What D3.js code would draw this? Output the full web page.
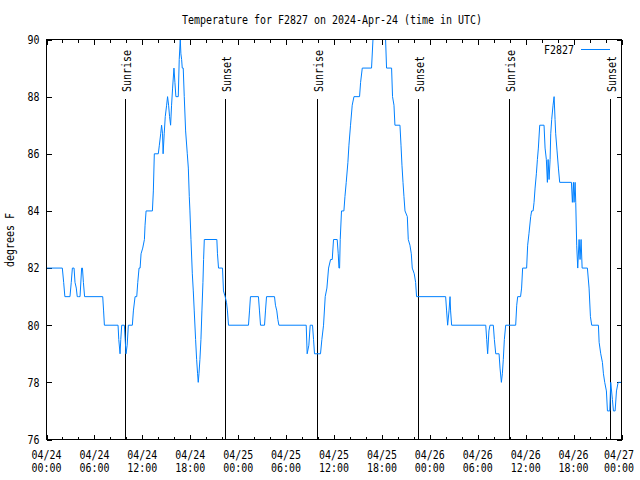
<!DOCTYPE html>
<html><head><meta charset="utf-8">
<script src="https://cdn.jsdelivr.net/npm/d3@7"></script>
<style>body{margin:0;background:#fff}svg text{font-family:"DejaVu Sans Mono",monospace;font-size:12px;fill:#000}</style>
</head><body><svg id="c" width="640" height="480"></svg>
<script>
// hours after 2024-04-24 00:00 UTC
const hours = [0,1.98,2.15,2.3,2.94,3.1,3.24,3.45,3.57,3.73,3.85,4.0,4.2,4.4,4.5,4.62,4.77,7.04,7.15,7.25,8.96,9.05,9.21,9.3,9.42,9.75,9.85,9.96,10.1,10.25,10.75,10.88,11.09,11.3,11.43,11.59,11.72,11.84,12.05,12.26,12.34,12.47,13.26,13.38,13.5,14.0,14.13,14.3,14.41,14.53,14.6,14.74,14.87,15.04,15.16,15.29,15.41,15.54,15.66,15.79,15.96,16.08,16.2,16.5,16.62,16.75,16.83,16.92,17.0,17.12,17.25,17.42,17.63,17.76,17.88,17.96,18.09,18.26,18.38,18.5,18.67,18.8,18.92,19.0,19.09,19.21,19.34,19.46,19.59,19.67,19.76,21.33,21.41,21.54,22.04,22.16,22.37,22.54,22.66,22.79,
25.29,25.42,25.54,26.54,26.67,26.8,27.3,27.42,27.55,28.55,28.67,28.84,28.97,29.1,32.52,32.64,32.85,33.02,33.31,33.44,33.56,34.31,34.48,34.69,34.9,35.11,35.32,35.57,35.78,35.94,36.4,36.53,36.62,36.7,36.78,36.94,37.24,37.37,37.53,37.74,37.87,38.07,38.28,38.5,39.2,39.33,39.54,40.7,40.88,40.95,42.38,42.46,42.58,43.21,43.33,43.51,43.63,44.26,44.39,44.51,44.64,44.76,44.89,45.18,45.3,45.51,45.68,45.8,46.05,46.22,46.34,
49.98,50.1,50.23,50.4,50.53,50.6,50.73,55.0,55.12,55.24,55.4,55.53,55.95,56.08,56.25,56.67,56.79,56.96,57.08,57.2,57.33,57.5,58.75,58.88,59.0,59.36,59.49,59.62,60.12,60.25,60.41,60.63,60.75,60.93,61.05,61.18,61.34,61.47,61.59,61.76,62.3,62.43,62.59,62.72,62.81,62.93,63.06,63.14,63.26,63.43,63.56,63.68,63.76,63.93,64.1,64.26,65.73,65.85,65.98,66.06,66.19,66.27,66.39,66.52,66.69,66.81,66.94,67.07,67.73,67.94,68.11,68.27,69.11,69.2,69.4,69.61,69.74,69.9,70.11,70.24,70.53,70.65,70.86,70.99,71.2,71.37,71.58,72.0];
const temps = [82,82,81.5,81,81,81.5,82,82,81.5,81.3,81,81,81,82,82,81.5,81,81,80.5,80,80,79.5,79,79.5,80,80,79.5,79,79.3,80,80,80.5,81,81,81.5,82,82,82.5,82.7,83,83.5,84,84,84.7,86,86,86.3,86.7,87,86.7,86,86.7,87.3,87.7,88,87.7,87.3,87,87.7,88.3,89,88.5,88,88,89.3,90,89.5,89.3,89,89,88,86.8,86,85.5,84.5,84,83,81.8,81.2,80.5,79.5,78.8,78.3,78,78.3,78.8,79.5,80.5,81.5,82.3,83,83,82.5,82,82,81.2,81,80.8,80.5,80,
80,80.5,81,81,80.5,80,80,80.5,81,81,80.7,80.5,80.2,80,80,79,79.3,80,80,79.5,79,79,79.5,80,81,81.3,82,82.3,82.3,83,83,82.5,82,82,83,84,84,84.5,85,85.7,86.3,87,87.7,88,88,88.5,89,89,90,90.5,90.5,90,89,89,88,87.7,87,87,86.3,85.6,85,84.5,84,83.8,83,82.8,82.5,82,81.8,81.5,81,
81,80.5,80,80.5,81,80.5,80,80,79.5,79,79.8,80,80,79.5,79,79,78.5,78,78.3,78.8,79.5,80,80,80.7,81,81,81.3,82,82,82.8,83.2,83.8,84,84,84.3,84.8,85.3,85.8,86.2,87,87,86.2,85.8,85,85.8,85.1,85.8,86.7,87.2,87.7,88,87.2,86.7,86.1,85.5,85,85,84.3,85,84.3,85,84.3,82.8,82,83,82.3,83,82,82,81.3,80.3,80,80,79.4,79,78.7,78.3,78,77.7,77,77,78,77.4,77,77,77.7,78,78];
const sunriseHours = [9.88, 33.81, 57.87];
const sunsetHours = [22.41, 46.47, 70.53];
const yTickValues = [76, 78, 80, 82, 84, 86, 88, 90];
const titleText = "Temperature for F2827 on 2024-Apr-24 (time in UTC)";
const seriesName = "F2827";
const yLabel = "degrees F";

const CW = 6; // px per monospace character
const t0 = Date.UTC(2024, 3, 24);
const t1 = Date.UTC(2024, 3, 27);
const toDate = h => new Date(t0 + h * 3600000);

const L = 46.5, R = 621.5, T = 39.5, B = 439.5;
const x = d3.scaleUtc().domain([new Date(t0), new Date(t1)]).range([L, R]);
const y = d3.scaleLinear().domain([76, 90]).range([B, T]);

const svg = d3.select("#c");
function txt(g, s, attrs) {
  const t = g.append("text").text(s).attr("textLength", s.length * CW).attr("lengthAdjust", "spacingAndGlyphs");
  for (const k in attrs) t.attr(k, attrs[k]);
  return t;
}

// title
txt(svg, titleText, {x: 332, y: 24, "text-anchor": "middle"});

// axes ticks
const major = d3.utcHour.every(6).range(new Date(t0), new Date(t1 + 1));
const minor = d3.utcHour.every(2).range(new Date(t0), new Date(t1 + 1)).filter(d => d.getUTCHours() % 6 !== 0);

function styleAxis(g) { g.select(".domain").remove(); g.selectAll("line").attr("stroke", "#000").attr("shape-rendering", "crispEdges"); g.selectAll(".tick text").remove(); }

svg.append("g").attr("transform", `translate(0,${B})`).call(d3.axisBottom(x).tickValues(major).tickSize(-5)).call(styleAxis);
svg.append("g").attr("transform", `translate(0,${B})`).call(d3.axisBottom(x).tickValues(minor).tickSize(-3)).call(styleAxis);
svg.append("g").attr("transform", `translate(0,${T})`).call(d3.axisTop(x).tickValues(major).tickSize(-5)).call(styleAxis);
svg.append("g").attr("transform", `translate(0,${T})`).call(d3.axisTop(x).tickValues(minor).tickSize(-3)).call(styleAxis);
svg.append("g").attr("transform", `translate(${L},0)`).call(d3.axisLeft(y).tickValues(yTickValues).tickSize(-5)).call(styleAxis);
svg.append("g").attr("transform", `translate(${R},0)`).call(d3.axisRight(y).tickValues(yTickValues).tickSize(-5)).call(styleAxis);

// x labels (last one kept inside the canvas)
const fmtD = d3.utcFormat("%m/%d"), fmtT = d3.utcFormat("%H:%M");
major.forEach(d => {
  const xx = Math.min(x(d), 634 - 15);
  txt(svg, fmtD(d), {x: xx, y: 458.5, "text-anchor": "middle"});
  txt(svg, fmtT(d), {x: xx, y: 472, "text-anchor": "middle"});
});
// y labels
yTickValues.forEach(v => txt(svg, String(v), {x: 39.5, y: y(v) + 4.3, "text-anchor": "end"}));
txt(svg, yLabel, {transform: "translate(13.5,240) rotate(-90)", "text-anchor": "middle"});

// sun lines
const sunEvents = sunriseHours.map(h => ({h, label: "Sunrise"})).concat(sunsetHours.map(h => ({h, label: "Sunset"})));
sunEvents.forEach(e => {
  const xx = Math.round(x(toDate(e.h))) + 0.5;
  svg.append("line").attr("x1", xx).attr("x2", xx).attr("y1", 99).attr("y2", B).attr("stroke", "#000").attr("stroke-width", 1);
  txt(svg, e.label, {transform: `translate(${xx + 5.5},92) rotate(-90)`, "text-anchor": "start"});
});

// clip + series line
svg.append("clipPath").attr("id", "pc").append("rect").attr("x", L).attr("y", T).attr("width", R - L).attr("height", B - T);
const data = hours.map((h, i) => ({d: toDate(h), v: temps[i]}));
svg.append("path").datum(data).attr("clip-path", "url(#pc)")
  .attr("fill", "none").attr("stroke", "#0080ff").attr("stroke-width", 1)
  .attr("d", d3.line().x(d => x(d.d)).y(d => y(d.v)));

// border
svg.append("rect").attr("x", L).attr("y", T).attr("width", R - L).attr("height", B - T)
  .attr("fill", "none").attr("stroke", "#000").attr("stroke-width", 1);

// legend
txt(svg, seriesName, {x: 574, y: 54, "text-anchor": "end"});
svg.append("line").attr("x1", 581).attr("x2", 610).attr("y1", 49.5).attr("y2", 49.5).attr("stroke", "#0080ff").attr("stroke-width", 1);
</script></body></html>
